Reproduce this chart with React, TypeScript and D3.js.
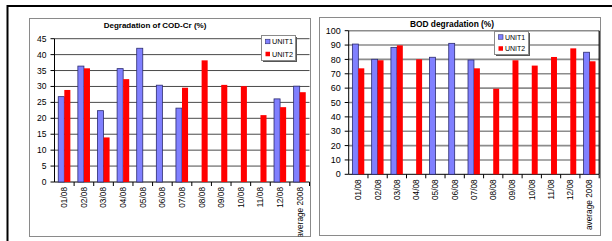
import React from "react";
import * as d3 from "d3";

const categories = ["01/08", "02/08", "03/08", "04/08", "05/08", "06/08", "07/08", "08/08", "09/08", "10/08", "11/08", "12/08", "average 2008"];
const seriesNames = ["UNIT1", "UNIT2"];

const codUnit1 = [26.8, 36.4, 22.4, 35.6, 42.0, 30.4, 23.2, null, null, null, null, 26.1, 30.1];
const codUnit2 = [28.9, 35.7, 14.0, 32.3, null, null, 29.6, 38.2, 30.5, 30.1, 21.0, 23.5, 28.2];
const codTicks = [0, 5, 10, 15, 20, 25, 30, 35, 40, 45];

const bodUnit1 = [90.7, 80.1, 88.4, null, 81.5, 91.2, 79.6, null, null, null, null, null, 85.0];
const bodUnit2 = [73.8, 79.4, 89.8, 80.1, null, null, 73.8, 59.6, 79.4, 75.7, 81.7, 87.7, 78.7];
const bodTicks = [0, 10, 20, 30, 40, 50, 60, 70, 80, 90, 100];

const BLUE = "#8080ff";
const BLUE_EDGE = "#2b2b70";
const RED = "#ff0000";
const FONT = "'Liberation Sans', Arial, sans-serif";

type Box = { x: number; y: number; w: number; h: number };

type ChartProps = {
  id: string;
  title: string;
  titleX: number;
  titleY: number;
  titleSize: number;
  unit1: (number | null)[];
  unit2: (number | null)[];
  ticks: number[];
  frame: Box;
  plot: Box;
  legend: Box;
  legendFont: number;
  tickFont: number;
  gridColor: string;
  gridWidth: number;
  rightBorder: boolean;
};

const BarChart = (p: ChartProps) => {
  const yMax = p.ticks[p.ticks.length - 1];
  const y = d3.scaleLinear().domain([0, yMax]).range([p.plot.y + p.plot.h, p.plot.y]);
  const x = d3.scaleBand().domain(categories).range([p.plot.x, p.plot.x + p.plot.w]);
  const xs = d3.scaleBand().domain(seriesNames).range([0, x.bandwidth()]).paddingOuter(0.62);
  const base = y(0);
  const series = [p.unit1, p.unit2];
  const clipId = `clip-${p.id}`;
  const lg = p.legend;
  const rowH = lg.h / 2;

  return (
    <g>
      <defs>
        <clipPath id={clipId}>
          <rect x={p.frame.x} y={p.frame.y} width={p.frame.w} height={p.frame.h} />
        </clipPath>
      </defs>
      <rect x={p.frame.x} y={p.frame.y} width={p.frame.w} height={p.frame.h} fill="#fff" stroke="#8a8a8a" strokeWidth={1} />
      <g clipPath={`url(#${clipId})`}>
        {p.ticks.map((t) => (
          <line key={t} x1={p.plot.x} x2={p.plot.x + p.plot.w} y1={y(t)} y2={y(t)}
            stroke={t === 0 ? "#000" : p.gridColor} strokeWidth={t === 0 ? 1 : p.gridWidth} />
        ))}
        {series.map((vals, si) =>
          vals.map((v, i) =>
            v == null ? null : (
              <rect key={`${si}-${i}`}
                x={(x(categories[i]) as number) + (xs(seriesNames[si]) as number)}
                y={y(v)}
                width={xs.bandwidth()}
                height={base - y(v)}
                fill={si === 0 ? BLUE : RED}
                stroke={si === 0 ? BLUE_EDGE : "none"}
                strokeWidth={0.8}
              />
            )
          )
        )}
        {categories.map((c) => (
          <line key={c} x1={(x(c) as number) + x.bandwidth()} x2={(x(c) as number) + x.bandwidth()}
            y1={base} y2={base + 4} stroke="#000" strokeWidth={1} />
        ))}
        {categories.map((c) => {
          const cx = (x(c) as number) + x.bandwidth() / 2;
          return (
            <text key={c} transform={`translate(${cx},${base + 5}) rotate(-90)`}
              textAnchor="end" dy="0.35em" fontSize={8.3} fontFamily={FONT} fill="#000">
              {c}
            </text>
          );
        })}
        {p.rightBorder && (
          <line x1={p.plot.x + p.plot.w} x2={p.plot.x + p.plot.w} y1={p.plot.y} y2={base} stroke="#000" strokeWidth={1.2} />
        )}
      </g>
      <line x1={p.plot.x} x2={p.plot.x} y1={p.plot.y} y2={base} stroke="#000" strokeWidth={1} />
      {p.ticks.map((t) => (
        <g key={t}>
          <line x1={p.plot.x - 4} x2={p.plot.x} y1={y(t)} y2={y(t)} stroke="#000" strokeWidth={1} />
          <text x={p.plot.x - 8} y={y(t)} dy="0.35em" textAnchor="end" fontSize={p.tickFont} fontFamily={FONT} fill="#000">
            {t}
          </text>
        </g>
      ))}
      <text x={p.titleX} y={p.titleY} textAnchor="middle" fontSize={p.titleSize} fontWeight="bold" fontFamily={FONT} fill="#000">
        {p.title}
      </text>
      <rect x={lg.x + 1.5} y={lg.y + 1.5} width={lg.w} height={lg.h} fill="#555" />
      <rect x={lg.x} y={lg.y} width={lg.w} height={lg.h} fill="#fff" stroke="#8a8a8a" strokeWidth={1} />
      {seriesNames.map((s, i) => {
        const cy = lg.y + rowH * i + rowH / 2;
        return (
          <g key={s}>
            <rect x={lg.x + 4} y={cy - 2.5} width={4.5} height={4.5}
              fill={i === 0 ? BLUE : RED} stroke={i === 0 ? BLUE_EDGE : "none"} strokeWidth={0.6} />
            <text x={lg.x + 10.5} y={cy} dy="0.35em" fontSize={p.legendFont} fontFamily={FONT} fill="#000">
              {s}
            </text>
          </g>
        );
      })}
    </g>
  );
};

export default function App() {
  return (
    <svg width={612} height={241} style={{ position: "fixed", left: 0, top: 0, background: "#fff" }}>
      <rect x={0} y={0} width={612} height={241} fill="#fff" />
      <BarChart
        id="cod"
        title="Degradation of COD-Cr (%)"
        titleX={155}
        titleY={28}
        titleSize={8}
        unit1={codUnit1}
        unit2={codUnit2}
        ticks={codTicks}
        frame={{ x: 29.5, y: 18.5, w: 281, h: 218 }}
        plot={{ x: 54.5, y: 38.7, w: 255, h: 143.3 }}
        legend={{ x: 261.5, y: 35.5, w: 34, h: 25 }}
        legendFont={7.3}
        tickFont={8.5}
        gridColor="#4a4a4a"
        gridWidth={1}
        rightBorder={false}
      />
      <BarChart
        id="bod"
        title="BOD degradation (%)"
        titleX={452}
        titleY={27}
        titleSize={8.4}
        unit1={bodUnit1}
        unit2={bodUnit2}
        ticks={bodTicks}
        frame={{ x: 319.5, y: 17.5, w: 281, h: 218 }}
        plot={{ x: 348.7, y: 30.7, w: 250.5, h: 143.6 }}
        legend={{ x: 494.5, y: 31.5, w: 34, h: 23 }}
        legendFont={7}
        tickFont={9}
        gridColor="#8c8c8c"
        gridWidth={1.6}
        rightBorder={true}
      />
      <line x1={7.5} x2={612} y1={6} y2={6} stroke="#000" strokeWidth={2} />
      <line x1={7.5} x2={7.5} y1={5} y2={241} stroke="#000" strokeWidth={2} />
    </svg>
  );
}
